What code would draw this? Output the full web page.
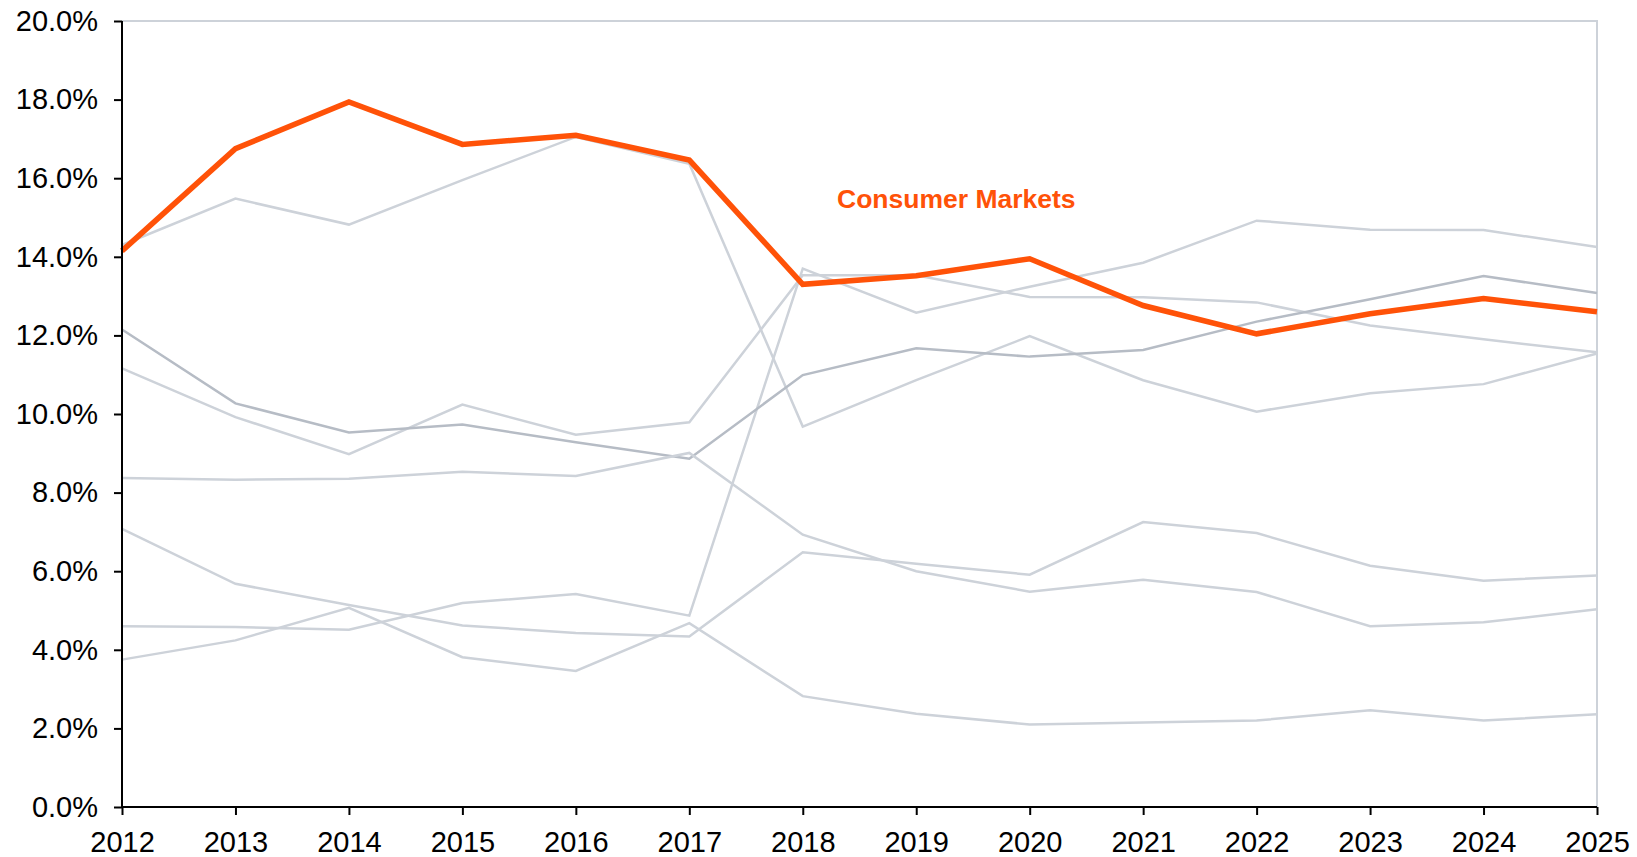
<!DOCTYPE html>
<html>
<head>
<meta charset="utf-8">
<script src="https://cdn.jsdelivr.net/npm/d3@7"></script>
<style>
  body { margin: 0; background: #fff; }
  svg { display: block; font-family: "Liberation Sans", Arial, sans-serif; }
</style>
</head>
<body>
<div class="chartContainer"></div>
<script>
const width = 1637,
  height = 857;
const margin = { top: 21, right: 40, bottom: 50, left: 122 };

// years on the x axis
const years = [2012, 2013, 2014, 2015, 2016, 2017, 2018, 2019, 2020, 2021, 2022, 2023, 2024, 2025];
const yTicks = [0, 2, 4, 6, 8, 10, 12, 14, 16, 18, 20];

// highlighted series
const consumerMarkets = [14.15, 16.75, 17.94, 16.86, 17.09, 16.46, 13.3, 13.52, 13.95, 12.76, 12.04, 12.55, 12.94, 12.6];

// other sectors (grey)
const seriesA = [14.3, 15.48, 14.82, 15.95, 17.05, 16.37, 9.68, 10.86, 11.98, 10.86, 10.06, 10.53, 10.76, 11.54];
const seriesB = [4.6, 4.58, 4.51, 5.19, 5.42, 4.87, 13.7, 12.58, 13.24, 13.85, 14.92, 14.69, 14.68, 14.25];
const seriesC = [11.16, 9.92, 8.98, 10.24, 9.47, 9.79, 13.53, 13.53, 12.98, 12.97, 12.84, 12.25, 11.9, 11.57];
const seriesD = [12.15, 10.27, 9.53, 9.73, 9.28, 8.86, 10.99, 11.67, 11.46, 11.63, 12.35, 12.92, 13.51, 13.08];
const seriesE = [8.37, 8.33, 8.35, 8.53, 8.42, 9.01, 6.93, 6.0, 5.48, 5.78, 5.47, 4.6, 4.7, 5.03];
const seriesF = [7.08, 5.68, 5.14, 4.62, 4.43, 4.34, 6.48, 6.19, 5.91, 7.25, 6.97, 6.14, 5.76, 5.89];
const seriesG = [3.75, 4.24, 5.07, 3.81, 3.46, 4.68, 2.82, 2.37, 2.1, 2.15, 2.2, 2.46, 2.2, 2.36];

const greySeries = [
  { values: seriesA, color: "#cdd2d9" },
  { values: seriesB, color: "#cdd2d9" },
  { values: seriesC, color: "#cdd2d9" },
  { values: seriesD, color: "#b6bcc5" },
  { values: seriesE, color: "#cdd2d9" },
  { values: seriesF, color: "#cdd2d9" },
  { values: seriesG, color: "#cdd2d9" },
];

const svg = d3
  .select(".chartContainer")
  .append("svg")
  .attr("width", width)
  .attr("height", height);

const xScale = d3
  .scaleLinear()
  .domain([2012, 2025])
  .range([margin.left, width - margin.right]);

const yScale = d3
  .scaleLinear()
  .domain([0, 20])
  .range([height - margin.bottom, margin.top]);

// top and right frame lines
svg
  .append("path")
  .attr("d", `M${xScale(2012)},${yScale(20)}H${xScale(2025)}V${yScale(0)}`)
  .attr("fill", "none")
  .attr("stroke", "#cdd2d9")
  .attr("stroke-width", 2);

const line = d3
  .line()
  .x((d, i) => xScale(years[i]))
  .y((d) => yScale(d));

svg
  .selectAll(".grey")
  .data(greySeries)
  .enter()
  .append("path")
  .attr("class", "grey")
  .attr("d", (s) => line(s.values))
  .attr("fill", "none")
  .attr("stroke", (s) => s.color)
  .attr("stroke-width", 2.5)
  .attr("stroke-linejoin", "miter");

svg
  .append("path")
  .attr("d", line(consumerMarkets))
  .attr("fill", "none")
  .attr("stroke", "#ff5208")
  .attr("stroke-width", 5.5)
  .attr("stroke-linejoin", "miter");

// label for highlighted line
svg
  .append("text")
  .attr("x", 837)
  .attr("y", 208)
  .attr("fill", "#ff5208")
  .attr("font-weight", "bold")
  .attr("font-size", 26.5)
  .text("Consumer Markets");

// axes
const yAxis = d3
  .axisLeft(yScale)
  .tickValues(yTicks)
  .tickSize(8)
  .tickPadding(16)
  .tickFormat((d) => d3.format(".1f")(d) + "%");

const gy = svg
  .append("g")
  .attr("transform", `translate(${margin.left},0)`)
  .call(yAxis);

const xAxis = d3
  .axisBottom(xScale)
  .tickValues(years)
  .tickSize(8)
  .tickPadding(16)
  .tickFormat(d3.format("d"));

const gx = svg
  .append("g")
  .attr("transform", `translate(0,${height - margin.bottom})`)
  .call(xAxis);

[gx, gy].forEach((g) => {
  g.select(".domain").attr("stroke", "#000").attr("stroke-width", 2);
  g.selectAll(".tick line").attr("stroke", "#000").attr("stroke-width", 2);
  g.selectAll(".tick text")
    .attr("fill", "#000")
    .attr("font-size", 29)
    .attr("font-family", "Liberation Sans, Arial, sans-serif");
});
gx.select(".domain").attr("d", `M${xScale(2012)},0H${xScale(2025)}`);
gy.select(".domain").attr("d", `M0,${yScale(0)}V${yScale(20)}`);
</script>
</body>
</html>
